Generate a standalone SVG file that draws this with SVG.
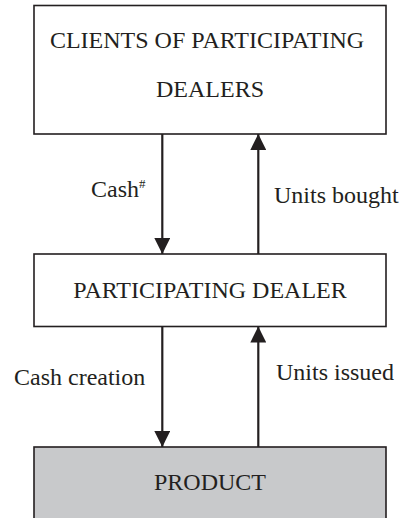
<svg xmlns="http://www.w3.org/2000/svg" width="402" height="518" viewBox="0 0 402 518">
<style>
.box{fill:#ffffff;stroke:#231f20;stroke-width:1.6}
.shade{fill:#c8c9cb;stroke:#231f20;stroke-width:1.6}
.t{font-family:'Liberation Serif','Times New Roman',serif;font-size:24px;fill:#231f20}
.c{text-anchor:middle}
.conn{stroke:#231f20;stroke-width:2.2;fill:none}
</style>
<defs>
<marker id="ah" viewBox="0 0 16 16" markerWidth="16" markerHeight="16" refX="16" refY="8" orient="auto" markerUnits="userSpaceOnUse">
<path d="M0,0 L16,8 L0,16 Z" fill="#231f20"/>
</marker>
</defs>
<rect width="402" height="518" fill="#ffffff"/>
<g id="clients">
<rect class="box" x="34" y="5.5" width="352" height="128.5"/>
<text class="t c" x="207" y="48">CLIENTS OF PARTICIPATING</text>
<text class="t c" x="210" y="97">DEALERS</text>
</g>
<g id="dealer">
<rect class="box" x="34" y="254" width="352" height="72.5"/>
<text class="t c" x="210" y="298">PARTICIPATING DEALER</text>
</g>
<g id="product">
<rect class="shade" x="34" y="447" width="352" height="80"/>
<text class="t c" x="210" y="490">PRODUCT</text>
</g>
<g id="connectors">
<line class="conn" x1="162.3" y1="134" x2="162.3" y2="254" marker-end="url(#ah)"/>
<line class="conn" x1="258.3" y1="254" x2="258.3" y2="134" marker-end="url(#ah)"/>
<line class="conn" x1="162.3" y1="326.5" x2="162.3" y2="447" marker-end="url(#ah)"/>
<line class="conn" x1="258.3" y1="447" x2="258.3" y2="326.5" marker-end="url(#ah)"/>
<text class="t" x="91" y="197">Cash<tspan font-size="13" dy="-9">#</tspan></text>
<text class="t" x="274" y="203">Units bought</text>
<text class="t" x="14" y="385">Cash creation</text>
<text class="t" x="276" y="380">Units issued</text>
</g>
</svg>
